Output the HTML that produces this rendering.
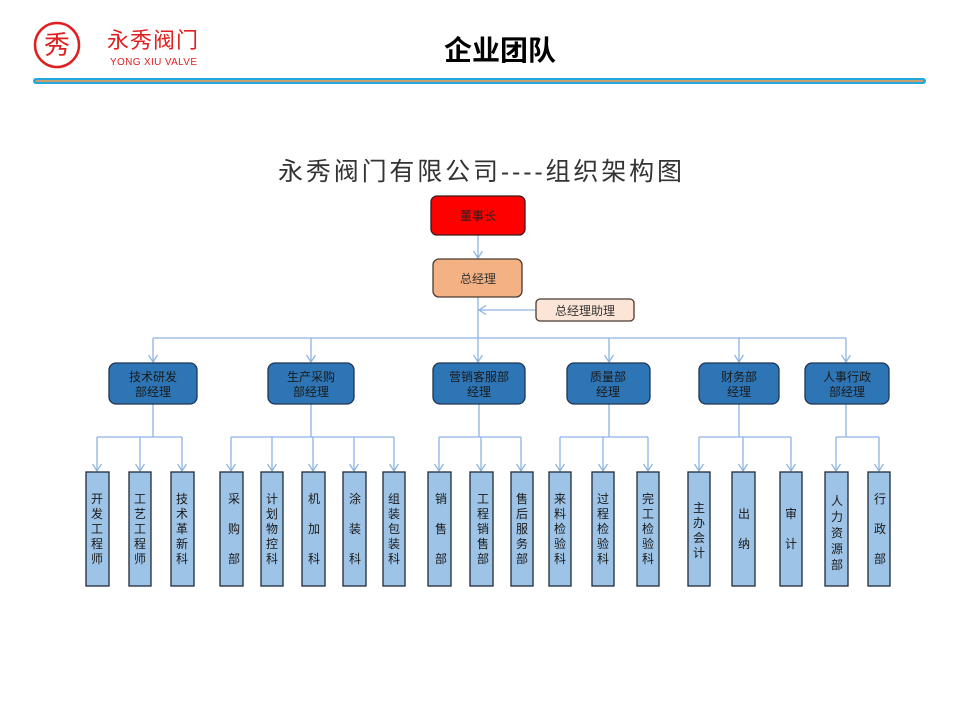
<!DOCTYPE html>
<html><head><meta charset="utf-8"><style>
html,body{margin:0;padding:0;background:#fff;}
svg{display:block;}
text{font-family:"Liberation Sans","Noto Sans CJK SC",sans-serif;}
</style></head><body>
<svg width="960" height="720" viewBox="0 0 960 720" xmlns="http://www.w3.org/2000/svg">
<defs>
<marker id="ar" markerWidth="10" markerHeight="10" refX="9" refY="5" orient="auto" markerUnits="userSpaceOnUse" viewBox="0 0 10 10">
<path d="M2,0.5 L9,5 L2,9.5" fill="none" stroke="#8EB4E3" stroke-width="1.3"/>
</marker>
</defs>
<!-- header -->
<circle cx="57" cy="45" r="22" fill="none" stroke="#E02020" stroke-width="2.5"/>
<text x="57" y="54" font-size="26" fill="#E02020" text-anchor="middle" font-family="'Noto Serif CJK SC',serif">秀</text>
<text x="107" y="48" font-size="22" fill="#E02020" font-family="'Noto Serif CJK SC',serif" textLength="91">永秀阀门</text>
<text x="110" y="65" font-size="10" fill="#E02020" textLength="87">YONG XIU VALVE</text>
<text x="500" y="60" font-size="28" fill="#000" text-anchor="middle" font-weight="bold" font-family="'Noto Serif CJK SC',serif">企业团队</text>
<rect x="33" y="78" width="893" height="6" rx="3" fill="#22A8DC"/>
<rect x="36" y="80" width="887" height="2" fill="#C8A070"/>
<!-- title -->
<text x="480" y="180" font-size="25" fill="#333" text-anchor="middle" textLength="404" font-family="'Noto Serif CJK SC',serif">永秀阀门有限公司----组织架构图</text>
<!-- connectors -->
<g stroke="#8EB4E3" stroke-width="1.3" fill="none">
<line x1="478" y1="235" x2="478" y2="258" marker-end="url(#ar)"/>
<line x1="478" y1="297" x2="478" y2="362" marker-end="url(#ar)"/>
<line x1="536" y1="310" x2="479" y2="310" marker-end="url(#ar)"/>
<line x1="153" y1="338" x2="846" y2="338"/>
<line x1="153" y1="338" x2="153" y2="362" marker-end="url(#ar)"/>
<line x1="311" y1="338" x2="311" y2="362" marker-end="url(#ar)"/>
<line x1="609" y1="338" x2="609" y2="362" marker-end="url(#ar)"/>
<line x1="739" y1="338" x2="739" y2="362" marker-end="url(#ar)"/>
<line x1="846" y1="338" x2="846" y2="362" marker-end="url(#ar)"/>
<line x1="153" y1="404" x2="153" y2="437"/><line x1="97" y1="437" x2="182" y2="437"/>
<line x1="97" y1="437" x2="97" y2="471" marker-end="url(#ar)"/>
<line x1="140" y1="437" x2="140" y2="471" marker-end="url(#ar)"/>
<line x1="182" y1="437" x2="182" y2="471" marker-end="url(#ar)"/>
<line x1="311" y1="404" x2="311" y2="437"/><line x1="231" y1="437" x2="394" y2="437"/>
<line x1="231" y1="437" x2="231" y2="471" marker-end="url(#ar)"/>
<line x1="272" y1="437" x2="272" y2="471" marker-end="url(#ar)"/>
<line x1="313" y1="437" x2="313" y2="471" marker-end="url(#ar)"/>
<line x1="354" y1="437" x2="354" y2="471" marker-end="url(#ar)"/>
<line x1="394" y1="437" x2="394" y2="471" marker-end="url(#ar)"/>
<line x1="479" y1="404" x2="479" y2="437"/><line x1="439" y1="437" x2="521" y2="437"/>
<line x1="439" y1="437" x2="439" y2="471" marker-end="url(#ar)"/>
<line x1="481" y1="437" x2="481" y2="471" marker-end="url(#ar)"/>
<line x1="521" y1="437" x2="521" y2="471" marker-end="url(#ar)"/>
<line x1="609" y1="404" x2="609" y2="437"/><line x1="560" y1="437" x2="648" y2="437"/>
<line x1="560" y1="437" x2="560" y2="471" marker-end="url(#ar)"/>
<line x1="603" y1="437" x2="603" y2="471" marker-end="url(#ar)"/>
<line x1="648" y1="437" x2="648" y2="471" marker-end="url(#ar)"/>
<line x1="739" y1="404" x2="739" y2="437"/><line x1="699" y1="437" x2="791" y2="437"/>
<line x1="699" y1="437" x2="699" y2="471" marker-end="url(#ar)"/>
<line x1="743" y1="437" x2="743" y2="471" marker-end="url(#ar)"/>
<line x1="791" y1="437" x2="791" y2="471" marker-end="url(#ar)"/>
<line x1="846" y1="404" x2="846" y2="437"/><line x1="836" y1="437" x2="879" y2="437"/>
<line x1="836" y1="437" x2="836" y2="471" marker-end="url(#ar)"/>
<line x1="879" y1="437" x2="879" y2="471" marker-end="url(#ar)"/>
</g>
<!-- top boxes -->
<rect x="431" y="196" width="94" height="39" rx="6" fill="#FF0000" stroke="#3a1a1a" stroke-width="1.3"/>
<text x="478" y="220" font-size="12" fill="#222" text-anchor="middle">董事长</text>
<rect x="433" y="259" width="89" height="38" rx="6" fill="#F4B183" stroke="#4a3a30" stroke-width="1.3"/>
<text x="478" y="283" font-size="12" fill="#333" text-anchor="middle">总经理</text>
<rect x="536" y="299" width="98" height="22" rx="4" fill="#FCE4D6" stroke="#4a3a30" stroke-width="1.3"/>
<text x="585" y="315" font-size="12" fill="#333" text-anchor="middle">总经理助理</text>
<!-- dept boxes -->
<g fill="#2E75B6" stroke="#1F3550" stroke-width="1.3">
<rect x="109" y="363" width="88" height="41" rx="7"/>
<rect x="268" y="363" width="86" height="41" rx="7"/>
<rect x="433" y="363" width="92" height="41" rx="7"/>
<rect x="567" y="363" width="83" height="41" rx="7"/>
<rect x="699" y="363" width="80" height="41" rx="7"/>
<rect x="805" y="363" width="84" height="41" rx="7"/>
</g>
<g font-size="12" fill="#1a1a1a" text-anchor="middle">
<text x="153" y="381">技术研发</text><text x="153" y="396">部经理</text>
<text x="311" y="381">生产采购</text><text x="311" y="396">部经理</text>
<text x="479" y="381">营销客服部</text><text x="479" y="396">经理</text>
<text x="608" y="381">质量部</text><text x="608" y="396">经理</text>
<text x="739" y="381">财务部</text><text x="739" y="396">经理</text>
<text x="847" y="381">人事行政</text><text x="847" y="396">部经理</text>
</g>
<!-- child boxes -->
<g fill="#9DC3E6" stroke="#1F2A3A" stroke-width="1.3">
<rect x="86" y="472" width="23" height="114"/>
<rect x="129" y="472" width="22" height="114"/>
<rect x="171" y="472" width="23" height="114"/>
<rect x="220" y="472" width="23" height="114"/>
<rect x="261" y="472" width="22" height="114"/>
<rect x="302" y="472" width="23" height="114"/>
<rect x="343" y="472" width="23" height="114"/>
<rect x="383" y="472" width="22" height="114"/>
<rect x="428" y="472" width="23" height="114"/>
<rect x="470" y="472" width="23" height="114"/>
<rect x="511" y="472" width="22" height="114"/>
<rect x="549" y="472" width="22" height="114"/>
<rect x="592" y="472" width="22" height="114"/>
<rect x="637" y="472" width="22" height="114"/>
<rect x="688" y="472" width="22" height="114"/>
<rect x="732" y="472" width="23" height="114"/>
<rect x="780" y="472" width="22" height="114"/>
<rect x="825" y="472" width="23" height="114"/>
<rect x="868" y="472" width="22" height="114"/>
</g>
<g font-size="12" fill="#1a1a1a" text-anchor="middle">
<text><tspan x="97" y="503">开</tspan><tspan x="97" y="518">发</tspan><tspan x="97" y="533">工</tspan><tspan x="97" y="548">程</tspan><tspan x="97" y="563">师</tspan></text>
<text><tspan x="140" y="503">工</tspan><tspan x="140" y="518">艺</tspan><tspan x="140" y="533">工</tspan><tspan x="140" y="548">程</tspan><tspan x="140" y="563">师</tspan></text>
<text><tspan x="182" y="503">技</tspan><tspan x="182" y="518">术</tspan><tspan x="182" y="533">革</tspan><tspan x="182" y="548">新</tspan><tspan x="182" y="563">科</tspan></text>
<text><tspan x="234" y="503">采</tspan><tspan x="234" y="533">购</tspan><tspan x="234" y="563">部</tspan></text>
<text><tspan x="272" y="503">计</tspan><tspan x="272" y="518">划</tspan><tspan x="272" y="533">物</tspan><tspan x="272" y="548">控</tspan><tspan x="272" y="563">科</tspan></text>
<text><tspan x="314" y="503">机</tspan><tspan x="314" y="533">加</tspan><tspan x="314" y="563">科</tspan></text>
<text><tspan x="355" y="503">涂</tspan><tspan x="355" y="533">装</tspan><tspan x="355" y="563">科</tspan></text>
<text><tspan x="394" y="503">组</tspan><tspan x="394" y="518">装</tspan><tspan x="394" y="533">包</tspan><tspan x="394" y="548">装</tspan><tspan x="394" y="563">科</tspan></text>
<text><tspan x="441" y="503">销</tspan><tspan x="441" y="533">售</tspan><tspan x="441" y="563">部</tspan></text>
<text><tspan x="483" y="503">工</tspan><tspan x="483" y="518">程</tspan><tspan x="483" y="533">销</tspan><tspan x="483" y="548">售</tspan><tspan x="483" y="563">部</tspan></text>
<text><tspan x="522" y="503">售</tspan><tspan x="522" y="518">后</tspan><tspan x="522" y="533">服</tspan><tspan x="522" y="548">务</tspan><tspan x="522" y="563">部</tspan></text>
<text><tspan x="560" y="503">来</tspan><tspan x="560" y="518">料</tspan><tspan x="560" y="533">检</tspan><tspan x="560" y="548">验</tspan><tspan x="560" y="563">科</tspan></text>
<text><tspan x="603" y="503">过</tspan><tspan x="603" y="518">程</tspan><tspan x="603" y="533">检</tspan><tspan x="603" y="548">验</tspan><tspan x="603" y="563">科</tspan></text>
<text><tspan x="648" y="503">完</tspan><tspan x="648" y="518">工</tspan><tspan x="648" y="533">检</tspan><tspan x="648" y="548">验</tspan><tspan x="648" y="563">科</tspan></text>
<text><tspan x="699" y="512">主</tspan><tspan x="699" y="527">办</tspan><tspan x="699" y="542">会</tspan><tspan x="699" y="557">计</tspan></text>
<text><tspan x="744" y="518">出</tspan><tspan x="744" y="548">纳</tspan></text>
<text><tspan x="791" y="518">审</tspan><tspan x="791" y="548">计</tspan></text>
<text><tspan x="837" y="505">人</tspan><tspan x="837" y="521">力</tspan><tspan x="837" y="537">资</tspan><tspan x="837" y="553">源</tspan><tspan x="837" y="569">部</tspan></text>
<text><tspan x="880" y="503">行</tspan><tspan x="880" y="533">政</tspan><tspan x="880" y="563">部</tspan></text>
</g>
</svg>
</body></html>
